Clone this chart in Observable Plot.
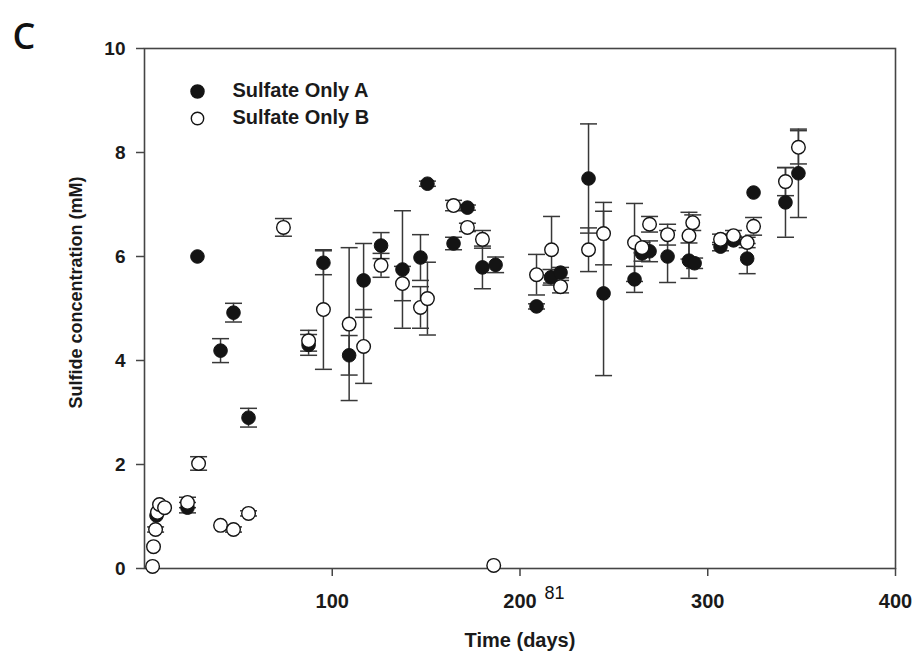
<!DOCTYPE html>
<html>
<head>
<meta charset="utf-8">
<script src="https://cdn.jsdelivr.net/npm/d3@7"></script>
<script src="https://cdn.jsdelivr.net/npm/@observablehq/plot@0.6"></script>
<style>
  html, body { margin: 0; padding: 0; background: #fff; }
  #chart { width: 914px; height: 654px; }
</style>
</head>
<body>
<div id="chart"></div>
<script>
// ---- Data ----
const seriesNames = ["Sulfate Only A", "Sulfate Only B"];

const daysA    = [6.4, 22.9, 28.2, 40.5, 47.4, 55.4, 87.4, 95.3, 109, 116.7, 126, 137.4, 147, 150.7, 164.6, 172, 180, 187, 208.8, 216.5, 221.6, 236.5, 244.5, 261, 265, 269, 278.6, 290, 293, 306.8, 313.7, 321, 324.4, 341.4, 348.3];
const sulfideA = [1.02, 1.17, 6.0, 4.19, 4.92, 2.9, 4.3, 5.88, 4.1, 5.54, 6.21, 5.75, 5.98, 7.4, 6.25, 6.94, 5.79, 5.84, 5.04, 5.6, 5.69, 7.5, 5.29, 5.56, 6.06, 6.1, 6.0, 5.92, 5.87, 6.19, 6.31, 5.96, 7.23, 7.04, 7.6];
const errorA   = [0, 0.1, 0, 0.23, 0.18, 0.18, 0.2, 0.23, 0.38, 0.71, 0.25, 1.13, 0.44, 0.05, 0.12, 0.05, 0.41, 0.15, 0.05, 0.15, 0.1, 1.05, 1.58, 0.25, 0.15, 0.2, 0.5, 0.34, 0.1, 0.08, 0.08, 0.29, 0, 0.67, 0.85];

const daysB    = [4.3, 4.8, 5.9, 6.9, 8, 10.7, 22.9, 28.8, 40.5, 47.4, 55.4, 74, 87.4, 95.3, 109, 116.7, 126, 137.4, 147, 150.7, 164.6, 172, 180, 186, 208.8, 216.8, 221.6, 236.5, 244.5, 261, 265, 269, 278.6, 290, 292, 306.8, 313.7, 321, 324.4, 341.4, 348.3];
const sulfideB = [0.04, 0.42, 0.75, 1.08, 1.23, 1.17, 1.27, 2.02, 0.83, 0.75, 1.06, 6.56, 4.38, 4.98, 4.7, 4.27, 5.83, 5.48, 5.02, 5.19, 6.98, 6.56, 6.33, 0.06, 5.65, 6.13, 5.42, 6.13, 6.44, 6.27, 6.17, 6.62, 6.42, 6.4, 6.65, 6.33, 6.4, 6.27, 6.58, 7.44, 8.1];
const errorB   = [0, 0, 0.05, 0, 0, 0, 0.1, 0.13, 0, 0.05, 0.05, 0.17, 0.2, 1.15, 1.47, 0.71, 0.23, 0.33, 0.4, 0.7, 0.1, 0.08, 0.17, 0, 0.39, 0.64, 0.12, 0.42, 0.6, 0.75, 0.1, 0.15, 0.2, 0.45, 0.15, 0.1, 0.1, 0.1, 0.17, 0.27, 0.32];

const xTicks = [100, 200, 300, 400];
const yTicks = [0, 2, 4, 6, 8, 10];

// ---- Build tables ----
const rowsA = daysA.map((d, i) => ({series: seriesNames[0], day: d, value: sulfideA[i], err: errorA[i]}));
const rowsB = daysB.map((d, i) => ({series: seriesNames[1], day: d, value: sulfideB[i], err: errorB[i]}));
const errRows = rowsA.concat(rowsB).filter(d => d.err > 0);

// horizontal cap symbol for error bars
const capSymbol = {
  draw(context, size) {
    const w = Math.sqrt(size / Math.PI);
    context.moveTo(-w, 0);
    context.lineTo(w, 0);
  }
};

const axisColor = "#454545";
const barColor = "#383838";
const dotR = 6.8;

const chart = Plot.plot({
  width: 914,
  height: 654,
  marginLeft: 144,
  marginRight: 19,
  marginTop: 48,
  marginBottom: 86,
  style: {
    fontFamily: "'Liberation Sans', Arial, sans-serif",
    fontSize: "19px",
    fontWeight: "bold",
    color: "#1a1a1a",
    background: "#fff",
    overflow: "visible"
  },
  x: {domain: [0, 400]},
  y: {domain: [0, 10]},
  marks: [
    Plot.axisX({ticks: xTicks, tickSize: 8, tickPadding: 17, label: null, stroke: axisColor, strokeWidth: 1.5, fontSize: 20}),
    Plot.axisY({ticks: yTicks, tickSize: 8, tickPadding: 11, label: null, stroke: axisColor, strokeWidth: 1.5, fontSize: 19}),
    Plot.frame({stroke: axisColor, strokeWidth: 1.6}),
    // error bars
    Plot.ruleX(errRows, {x: "day", y1: d => d.value - d.err, y2: d => d.value + d.err, stroke: barColor, strokeWidth: 1.5}),
    Plot.dot(errRows, {x: "day", y: d => d.value + d.err, symbol: capSymbol, r: 8.5, fill: "none", stroke: barColor, strokeWidth: 1.5}),
    Plot.dot(errRows, {x: "day", y: d => d.value - d.err, symbol: capSymbol, r: 8.5, fill: "none", stroke: barColor, strokeWidth: 1.5}),
    // series A (filled)
    Plot.dot(rowsA, {x: "day", y: "value", r: dotR, fill: "#141414", stroke: "#141414", strokeWidth: 1}),
    // series B (open)
    Plot.dot(rowsB, {x: "day", y: "value", r: dotR, fill: "#fff", stroke: "#141414", strokeWidth: 1.4}),
    // legend
    Plot.dot([seriesNames[0]], {frameAnchor: "top-left", dx: 53, dy: 43, r: 6.5, fill: "#141414", stroke: "#141414"}),
    Plot.dot([seriesNames[1]], {frameAnchor: "top-left", dx: 53, dy: 70, r: 6.2, fill: "#fff", stroke: "#141414", strokeWidth: 1.4}),
    Plot.text([seriesNames[0]], {text: d => d, frameAnchor: "top-left", dx: 88, dy: 42.5, textAnchor: "start", lineAnchor: "middle", fontSize: 20, fill: "#1a1a1a"}),
    Plot.text([seriesNames[1]], {text: d => d, frameAnchor: "top-left", dx: 88, dy: 69.5, textAnchor: "start", lineAnchor: "middle", fontSize: 20, fill: "#1a1a1a"}),
    // axis titles
    Plot.text(["Time (days)"], {text: d => d, frameAnchor: "bottom", dy: 78, textAnchor: "middle", lineAnchor: "bottom", fontSize: 20, fill: "#1a1a1a"}),
    Plot.text(["Sulfide concentration (mM)"], {text: d => d, frameAnchor: "left", dx: -68, dy: -16, rotate: -90, textAnchor: "middle", lineAnchor: "middle", fontSize: 18, fill: "#1a1a1a"}),
    // panel letter and page number
    Plot.text(["C"], {text: d => d, frameAnchor: "top-left", dx: -132, dy: 0, textAnchor: "start", lineAnchor: "bottom", fontSize: 36, fontWeight: 600, fontFamily: "'Open Sans', sans-serif", fill: "#111"}),
    Plot.text(["81"], {text: d => d, frameAnchor: "bottom", dx: 34.5, dy: 30, textAnchor: "middle", lineAnchor: "bottom", fontSize: 18, fontWeight: "normal", fill: "#111"})
  ]
});

document.getElementById("chart").appendChild(chart);
</script>
</body>
</html>
